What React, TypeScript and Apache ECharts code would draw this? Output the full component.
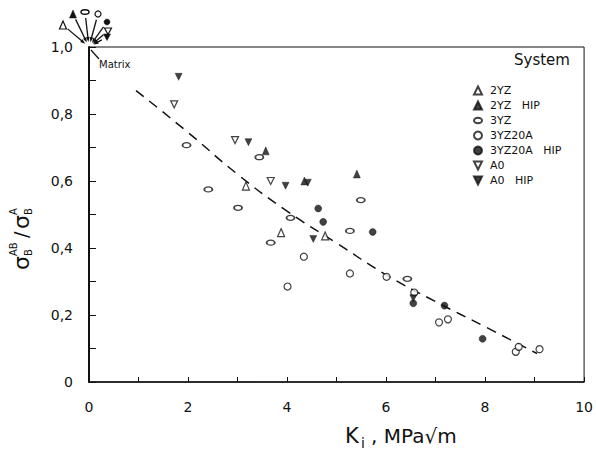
import React, { useEffect, useRef } from "react";
import * as echarts from "echarts";

// ---- data ----
const seriesNames = ["2YZ", "2YZ   HIP", "3YZ", "3YZ20A", "3YZ20A   HIP", "A0", "A0   HIP"];

const twoYZ = [[3.17, 0.585], [3.88, 0.446], [4.77, 0.436]];
const twoYZHip = [[3.57, 0.69], [4.35, 0.6], [5.41, 0.621]];
const threeYZ = [[1.97, 0.707], [2.41, 0.575], [3.01, 0.52], [3.44, 0.671], [3.67, 0.416], [4.07, 0.49], [5.27, 0.451], [5.49, 0.543], [6.43, 0.308]];
const threeYZ20A = [[4.01, 0.285], [4.34, 0.374], [5.27, 0.324], [6.01, 0.314], [6.57, 0.267], [7.07, 0.178], [7.25, 0.187], [8.62, 0.09], [8.68, 0.105], [9.1, 0.098]];
const threeYZ20AHip = [[4.63, 0.518], [4.73, 0.478], [5.73, 0.448], [6.55, 0.235], [7.18, 0.228], [7.95, 0.129]];
const a0 = [[1.72, 0.829], [2.95, 0.722], [3.67, 0.6]];
const a0Hip = [[1.81, 0.911], [3.22, 0.716], [3.97, 0.586], [4.42, 0.595], [4.53, 0.427], [6.55, 0.25]];

const trendLine = [[0.95, 0.87], [2, 0.745], [3, 0.62], [4, 0.51], [5, 0.415], [6, 0.32], [7, 0.24], [8, 0.165], [9.05, 0.085]];

const xTickLabels = ["0", "2", "4", "6", "8", "10"];
const yTickLabels = ["0", "0,2", "0,4", "0,6", "0,8", "1,0"];

const matrixPoint = [0, 1];

// ---- styling helpers ----
const TRI_UP = "path://M5,0 L10,10 L0,10 Z";
const TRI_DOWN = "path://M0,0 L10,0 L5,10 Z";
const ELLIPSE = "path://M0,4 A6,4 0 1,1 12,4 A6,4 0 1,1 0,4 Z";
const FONT = "DejaVu Sans";
const INK = "#111";

const open = { color: "#fff", borderColor: INK, borderWidth: 1.2 };
const filled = { color: INK, borderColor: INK, borderWidth: 0.5 };

const seriesDefs = [
  { data: twoYZ, symbol: TRI_UP, size: [7, 8], style: open },
  { data: twoYZHip, symbol: TRI_UP, size: [7, 8], style: filled },
  { data: threeYZ, symbol: ELLIPSE, size: [8, 5], style: { ...open, borderWidth: 1.5 } },
  { data: threeYZ20A, symbol: "circle", size: 7, style: open },
  { data: threeYZ20AHip, symbol: "circle", size: 7, style: filled },
  { data: a0, symbol: TRI_DOWN, size: [7, 7], style: open },
  { data: a0Hip, symbol: TRI_DOWN, size: [7, 7], style: filled },
];

export default function App() {
  const ref = useRef<HTMLDivElement>(null);

  useEffect(() => {
    if (!ref.current) return;
    const chart = echarts.init(ref.current, null, { renderer: "svg" });

    const series: any[] = seriesDefs.map((d, i) => ({
      name: seriesNames[i],
      type: "scatter",
      data: d.data,
      symbol: d.symbol,
      symbolSize: d.size,
      itemStyle: d.style,
      z: 3,
    }));
    series.push({
      name: "trend",
      type: "line",
      data: trendLine,
      smooth: true,
      symbol: "none",
      lineStyle: { color: INK, width: 1.5, type: [10, 7] },
      z: 2,
    });

    chart.setOption({
      animation: false,
      backgroundColor: "#fff",
      grid: { left: 89, right: 6, top: 47, bottom: 73, show: true, borderColor: INK, borderWidth: 1 },
      legend: {
        data: seriesNames,
        orient: "vertical",
        left: 468,
        top: 80,
        itemWidth: 8,
        itemHeight: 8,
        itemGap: 4,
        selectedMode: false,
        textStyle: { fontFamily: FONT, fontSize: 11, color: INK, padding: [0, 0, 0, 3] },
      },
      xAxis: {
        type: "value",
        min: 0,
        max: 10,
        interval: 1,
        splitLine: { show: false },
        axisLine: { lineStyle: { color: INK, width: 1.5 } },
        axisTick: { inside: true, length: 5, lineStyle: { color: INK } },
        axisLabel: {
          margin: 18,
          fontFamily: FONT,
          fontSize: 14,
          color: INK,
          formatter: (v: number) => (Math.round(v) % 2 === 0 ? xTickLabels[Math.round(v) / 2] : ""),
        },
      },
      yAxis: {
        type: "value",
        min: 0,
        max: 1,
        interval: 0.1,
        splitLine: { show: false },
        axisLine: { lineStyle: { color: INK, width: 2 } },
        axisTick: { inside: true, length: 7, lineStyle: { color: INK } },
        axisLabel: {
          margin: 16,
          fontFamily: FONT,
          fontSize: 14,
          color: INK,
          formatter: (v: number) => {
            const k = Math.round(v * 10);
            return k % 2 === 0 ? yTickLabels[k / 2] : "";
          },
        },
      },
      series,
    });

    // annotation anchored to the matrix point (0, 1)
    const o = chart.convertToPixel({ gridIndex: 0 }, matrixPoint) as number[];
    const ox = o[0], oy = o[1];
    const marks = [
      { kind: "triUpOpen", dx: -26, dy: -22 },
      { kind: "triUpFilled", dx: -16, dy: -33 },
      { kind: "ellipse", dx: -4, dy: -35 },
      { kind: "circleOpen", dx: 9, dy: -33 },
      { kind: "circleFilled", dx: 18, dy: -25 },
      { kind: "triDownOpen", dx: 19, dy: -16 },
      { kind: "triDownFilled", dx: 18, dy: -10 },
    ];
    const elements: any[] = [];
    marks.forEach((m) => {
      const cx = ox + m.dx, cy = oy + m.dy;
      const st = m.kind.endsWith("Open") || m.kind === "ellipse"
        ? { fill: "#fff", stroke: INK, lineWidth: 1.2 }
        : { fill: INK, stroke: INK, lineWidth: 0.5 };
      if (m.kind.startsWith("triUp")) {
        elements.push({ type: "polygon", shape: { points: [[cx, cy - 4], [cx + 3.5, cy + 4], [cx - 3.5, cy + 4]] }, style: st });
      } else if (m.kind.startsWith("triDown")) {
        elements.push({ type: "polygon", shape: { points: [[cx - 3.5, cy - 3], [cx + 3.5, cy - 3], [cx, cy + 3.5]] }, style: st });
      } else if (m.kind.startsWith("circle")) {
        elements.push({ type: "circle", shape: { cx, cy, r: 3 }, style: st });
      } else {
        elements.push({ type: "ellipse", shape: { cx, cy, rx: 4, ry: 2.3 }, style: { ...st, lineWidth: 1.5 } });
      }
      // arrow towards the matrix point
      const len = Math.hypot(m.dx, m.dy);
      const ux = -m.dx / len, uy = -m.dy / len; // unit vector symbol -> origin
      const sx = cx + ux * 6, sy = cy + uy * 6;
      const ex = ox - ux * 5, ey = oy - uy * 5; // tip, 5px before origin
      elements.push({ type: "line", shape: { x1: sx, y1: sy, x2: ex - ux * 3, y2: ey - uy * 3 }, style: { stroke: INK, lineWidth: 1.3 } });
      const px = -uy, py = ux;
      elements.push({
        type: "polygon",
        shape: { points: [[ex, ey], [ex - ux * 5 + px * 1.8, ey - uy * 5 + py * 1.8], [ex - ux * 5 - px * 1.8, ey - uy * 5 - py * 1.8]] },
        style: { fill: INK },
      });
    });
    // "Matrix" label with pointer
    elements.push({ type: "line", shape: { x1: ox + 2, y1: oy + 3, x2: ox + 10, y2: oy + 12 }, style: { stroke: INK, lineWidth: 1.2 } });
    elements.push({ type: "text", x: ox + 10, y: oy + 17, style: { text: "Matrix", fontFamily: FONT, fontSize: 10, fill: INK, verticalAlign: "middle" } });

    // legend title
    elements.push({ type: "text", left: 514, top: 52, style: { text: "System", fontFamily: FONT, fontSize: 15, fill: INK } });

    // x axis title
    elements.push({ type: "text", x: 345, y: 436, style: { text: "K", fontFamily: FONT, fontSize: 21, fill: INK, verticalAlign: "middle" } });
    elements.push({ type: "text", x: 361, y: 443, style: { text: "i", fontFamily: FONT, fontSize: 14, fill: INK, verticalAlign: "middle" } });
    elements.push({ type: "text", x: 371, y: 436, style: { text: ", MPa√m", fontFamily: FONT, fontSize: 20, fill: INK, verticalAlign: "middle" } });

    // y axis title (rotated)
    const tx = (t: string, x: number, y: number, s: number) => ({
      type: "text", x, y, style: { text: t, fontFamily: FONT, fontSize: s, fill: INK, verticalAlign: "middle" },
    });
    elements.push({
      type: "group",
      x: 21,
      y: 218,
      rotation: Math.PI / 2,
      children: [
        tx("σ", -52, 0, 22),
        tx("AB", -38, -8, 10),
        tx("B", -38, 7, 10),
        tx("/", -20, 0, 19),
        tx("σ", -11, 0, 22),
        tx("A", 3, -8, 10),
        tx("B", 3, 7, 10),
      ],
    });

    chart.setOption({ graphic: { elements } });

    return () => chart.dispose();
  }, []);

  return <div ref={ref} style={{ width: 596, height: 455, position: "absolute", left: 0, top: 0 }} />;
}
